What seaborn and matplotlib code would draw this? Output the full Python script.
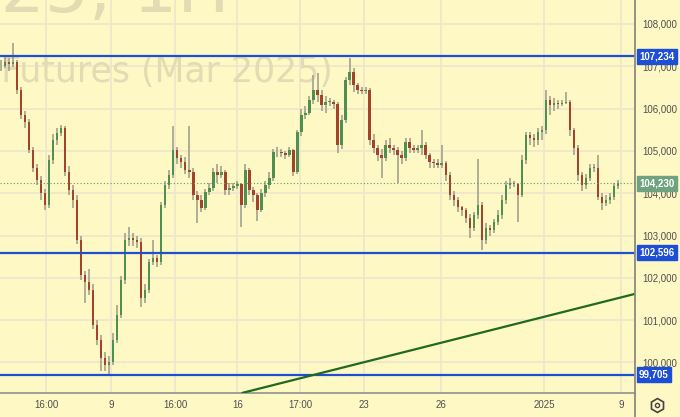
import numpy as np
import pandas as pd
import seaborn as sns
import matplotlib.pyplot as plt
import matplotlib.transforms as mtransforms
from matplotlib.lines import Line2D

# Hourly closes / highs / lows (open = previous close)
first_open = 107000
closes = [107010, 107100, 107050, 107100, 106440, 105850, 105680, 105020, 104600, 104310,
          104000, 103720, 104790, 105260, 105420, 105540, 104500, 104080, 103840, 102890,
          102070, 101900, 101710, 100880, 100530, 100100, 99940, 100010, 100530, 101120,
          101950, 102890, 102940, 102890, 102850, 101520, 101710, 102370, 102470, 102370,
          103720, 104190, 104430, 105020, 104830, 104740, 104550, 104500, 103960, 103840,
          103650, 104030, 104120, 104500, 104430, 104500, 104080, 104120, 104170, 104220,
          103720, 104550, 104080, 103960, 103600, 104000, 104190, 104360, 104970, 104970,
          104950, 104900, 105020, 104500, 105450, 105850, 105900, 106200, 106440, 106320,
          106080, 106160, 106160, 106110, 105140, 105730, 106680, 106870, 106560, 106440,
          106420, 106440, 105260, 105070, 104900, 104830, 105140, 105070, 105020, 104900,
          104830, 105210, 105070, 105020, 105070, 105140, 104900, 104740, 104710, 104670,
          104710, 104430, 103960, 103840, 103670, 103600, 103410, 103180, 103480, 103720,
          102890, 103180, 103130, 103320, 103480, 103840, 104190, 104240, 104220, 103960,
          104790, 105380, 105310, 105260, 105450, 105490, 106200, 106080, 106130, 106110,
          106130, 106160, 105490, 105070, 104430, 104190, 104360, 104600, 104600, 103910,
          103770, 103840, 103910, 104170, 104230]
highs = [107150, 107250, 107200, 107540, 107150, 106500, 105950, 105750, 105100, 104700,
         104400, 104100, 104900, 105400, 105550, 105620, 105600, 104650, 104200, 103950,
         103000, 102150, 102200, 101850, 101000, 100650, 100250, 100150, 100700, 101350,
         102050, 103050, 103200, 103050, 103000, 102950, 101850, 102450, 102900, 102550,
         103800, 104300, 104550, 105600, 105100, 104900, 104850, 105600, 104600, 104050,
         103950, 104100, 104250, 104600, 104700, 104650, 104550, 104250, 104250, 104300,
         104250, 104700, 104600, 104150, 104000, 104100, 104300, 104500, 105050, 105100,
         105050, 105000, 105100, 105050, 105500, 106000, 106050, 106300, 106800, 106850,
         106450, 106300, 106250, 106200, 106150, 105850, 106750, 107200, 106950, 106600,
         106500, 106500, 106480, 105400, 105150, 105050, 105250, 105300, 105150, 105100,
         105000, 105300, 105300, 105150, 105150, 105500, 105200, 104950, 104800, 104800,
         105150, 104750, 104500, 104050, 103900, 103700, 103650, 103500, 103550, 104800,
         103800, 103300, 103250, 103400, 103600, 103950, 104300, 104350, 104300, 104250,
         104900, 105450, 105450, 105400, 105550, 105600, 106450, 106300, 106250, 106200,
         106200, 106400, 106200, 105550, 105150, 104500, 104450, 104700, 104700, 104900,
         104000, 103950, 104000, 104250, 104320]
lows = [106880, 106950, 106900, 106980, 106350, 105750, 105550, 104950, 104500, 104200,
        103850, 103600, 103650, 104700, 105150, 105350, 104400, 103950, 103650, 102800,
        101950, 101400, 101600, 100800, 100400, 99800, 99800, 99720, 99950, 100450,
        101050, 101850, 102750, 102750, 102700, 101300, 101400, 101650, 102300, 102250,
        102300, 103650, 104100, 104350, 104700, 104600, 104450, 104350, 103850, 103300,
        103550, 103600, 103950, 104050, 104250, 104350, 103950, 103950, 104050, 104100,
        103200, 103650, 103950, 103800, 103350, 103550, 103900, 104100, 104300, 104850,
        104850, 104800, 104850, 104400, 104450, 105350, 105750, 105850, 106100, 106150,
        105950, 105900, 106050, 106000, 104950, 105050, 105650, 106550, 106400, 106350,
        106350, 106350, 105150, 104950, 104750, 104350, 104750, 104950, 104900, 104250,
        104700, 104750, 104950, 104950, 104950, 104900, 104800, 104600, 104600, 104600,
        104600, 104300, 103850, 103700, 103550, 103450, 103300, 102950, 103100, 103400,
        102650, 102800, 103000, 103050, 103250, 103400, 103750, 104100, 104150, 103320,
        103900, 104700, 105150, 105100, 105150, 105250, 105400, 105850, 105950, 106000,
        106050, 106100, 105350, 104900, 104300, 104050, 104100, 104300, 104500, 103850,
        103600, 103700, 103750, 103850, 104100]

levels = [107234, 102596, 99705]
last_price = 104230
trend_idx = [60.25, 158.25]
trend_price = [99280, 101620]

tick_pos = [11.25, 27.5, 43.5, 59, 74.75, 90.5, 109.75, 135.5, 154.75]
tick_labels = ['16:00', '9', '16:00', '16', '17:00', '23', '26', '2025', '9']
price_ticks = list(range(100000, 109000, 1000))

df = pd.DataFrame({'close': closes, 'high': highs, 'low': lows})
df['open'] = df['close'].shift(1).fillna(first_open)
df['idx'] = np.arange(len(df))
df['up'] = df['close'] >= df['open']

bg = '#fef8c4'
grid_c = '#ece7cc'
blue = '#1d4fd4'
wm = '#e2dbb3'

sns.set_style('white', rc={'axes.facecolor': bg, 'figure.facecolor': bg})
plt.rcParams['font.family'] = ['Liberation Sans', 'DejaVu Sans']

fig = plt.figure(figsize=(6.8, 4.17), dpi=100)
ax = fig.add_axes([0, 24 / 417, 635 / 680, 393 / 417])
ax.set_facecolor(bg)

# grid
for p in price_ticks:
    ax.axhline(p, color=grid_c, lw=1.2, zorder=0)
for t in tick_pos:
    ax.axvline(t, color=grid_c, lw=1.2, zorder=0)

# watermark (cut by the pane edges, as on the chart)
ax.text(230 / 635, 1 - 12 / 393, 'BTCH2025, 1H', transform=ax.transAxes, ha='right',
        va='baseline', fontsize=50, color=wm, family='DejaVu Sans', zorder=0.5, clip_on=True)
ax.text(333 / 635, 1 - 82 / 393, 'Bitcoin Futures (Mar 2025)', transform=ax.transAxes, ha='right',
        va='baseline', fontsize=25, color=wm, family='DejaVu Sans', zorder=0.5, clip_on=True)

# candles
ax.vlines(df['idx'], df['low'], df['high'], color='#a3a190', lw=1.2, zorder=2)
body_bottom = df[['open', 'close']].min(axis=1)
body_h = (df['close'] - df['open']).abs().clip(lower=15)
ax.bar(df['idx'], body_h, bottom=body_bottom, width=0.6,
       color=np.where(df['up'], '#4f8f4f', '#a2432c'), zorder=3, linewidth=0)

# levels and trendline
for lv in levels:
    ax.axhline(lv, color=blue, lw=1.6, zorder=4)
ax.axhline(last_price, color='#5f9c6c', lw=0.8, ls=(0, (1, 2)), zorder=4)
sns.lineplot(x=trend_idx, y=trend_price, ax=ax, color='#1f6a1f', lw=1.6, zorder=4)

ax.set_xlim(-0.25, 158.25)
ax.set_ylim(99277, 108567)

ax.yaxis.tick_right()
ax.set_yticks(price_ticks, [f'{p:,}' for p in price_ticks])
ax.set_xticks(tick_pos, tick_labels)
ax.tick_params(axis='y', length=0, pad=5, labelsize=7, labelcolor='#4f4f4f')
ax.tick_params(axis='x', length=0, pad=5, labelsize=7, labelcolor='#4f4f4f')
for s in ['top', 'left', 'right']:
    ax.spines[s].set_visible(False)
ax.spines['bottom'].set_color('#9a9a90')
ax.spines['bottom'].set_linewidth(1.3)

# price boxes on the right axis
trans = mtransforms.blended_transform_factory(ax.transAxes, ax.transData)
for lv in levels:
    ax.text(1 + 4 / 635, lv, f'{lv:,}', transform=trans, ha='left', va='center', fontsize=7,
            color='white', fontweight='bold', clip_on=False, zorder=6,
            bbox=dict(boxstyle='square,pad=0.25', fc=blue, ec=blue))
ax.text(1 + 4 / 635, last_price, f'{last_price:,}', transform=trans, ha='left', va='center',
        fontsize=7, color='white', fontweight='bold', clip_on=False, zorder=6,
        bbox=dict(boxstyle='square,pad=0.25', fc='#6fa27f', ec='#6fa27f'))

# right axis line and settings icon
fig.add_artist(Line2D([635 / 680, 635 / 680], [0, 1], color='#8a8a80', lw=1.3, transform=fig.transFigure))
fig.add_artist(Line2D([657 / 680], [1 - 405 / 417], marker='h', ms=10, mfc='none', mec='#444444',
                      mew=1.2, transform=fig.transFigure))
fig.add_artist(Line2D([657 / 680], [1 - 405 / 417], marker='o', ms=3, mfc='none', mec='#444444',
                      mew=1.0, transform=fig.transFigure))

fig.savefig('out.png', dpi=100, facecolor=bg)
